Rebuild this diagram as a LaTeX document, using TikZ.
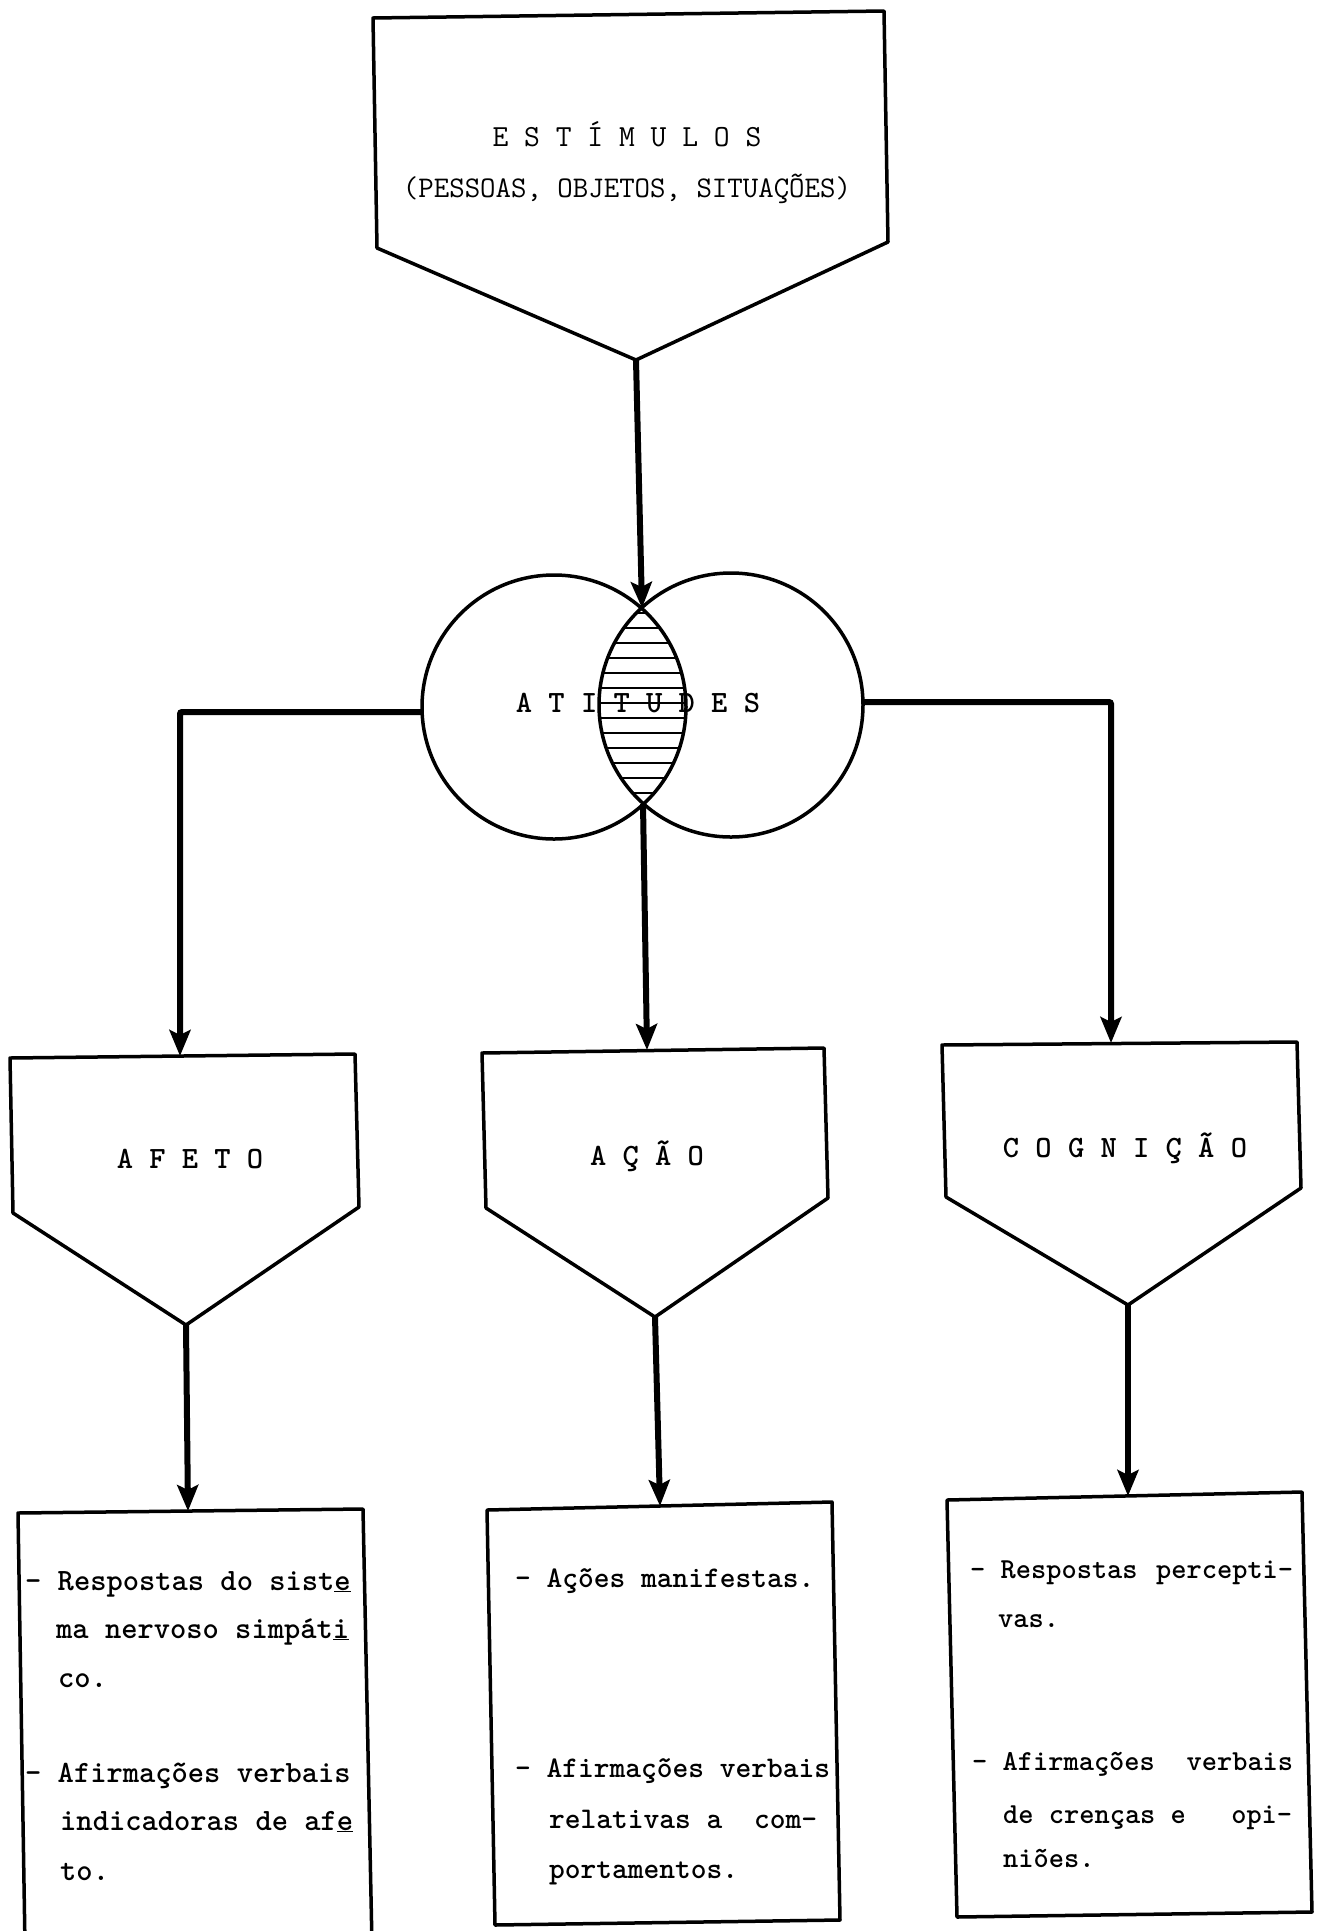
\documentclass[tikz,border=0pt]{standalone}
\usepackage{fontspec}
\usetikzlibrary{arrows.meta}
\begin{document}
\begin{tikzpicture}[x=1pt,y=-1pt,
  outline/.style={line width=3.5pt, line join=round},
  arr/.style={line width=6pt, rounded corners=2pt, -{Stealth[length=26pt,width=21pt,inset=5pt]}},
  hatch/.style={line width=2pt},
  lbl/.style={inner sep=0pt, anchor=base, font=\fontsize{31}{31}\selectfont\ttfamily\bfseries},
  btxt/.style={inner sep=0pt, anchor=base west, font=\fontsize{31}{31}\selectfont\ttfamily\bfseries},
  ctxt/.style={inner sep=0pt, anchor=base west, font=\fontsize{30}{30}\selectfont\ttfamily\bfseries},
  gtxt/.style={inner sep=0pt, anchor=base west, font=\fontsize{29}{29}\selectfont\ttfamily\bfseries},
  ring/.style={circle, draw, line width=3.5pt, minimum size=264pt, inner sep=0pt}
]
\fill[white] (0,0) rectangle (1318,1931);
\useasboundingbox (0,0) rectangle (1318,1931);

% ---------- top pentagon ----------
\draw[outline] (373,18) -- (884,11) -- (888,242) -- (636,360) -- (377,248) -- cycle;
\coordinate (stimP) at (636,360);
\node[lbl, font=\fontsize{30.7}{30}\selectfont\ttfamily] (est) at (627,146) {E S T Í M U L O S};
\node[lbl, font=\fontsize{30}{30}\selectfont\ttfamily] (estsub) at (627,197) {(PESSOAS, OBJETOS, SITUAÇÕES)};

% ---------- circles ----------
\node[ring] (LC) at (554,707) {};
\node[ring] (RC) at (731,705) {};
\begin{scope}
  \clip (554,707) circle [radius=132pt];
  \clip (731,705) circle [radius=132pt];
  \foreach \yy in {613,628,...,800} \draw[hatch] (590,\yy) -- (700,\yy);
\end{scope}
\node[lbl] (att) at (638,712) {A T I T U D E S};

\coordinate (lensT) at (642,608);
\coordinate (lensB) at (643,804);
\coordinate (lw) at (422,712);
\coordinate (rw) at (863,702);

% ---------- middle pentagons ----------
\draw[outline] (10,1058) -- (355,1054) -- (359,1207) -- (186,1325) -- (13,1213) -- cycle;
\draw[outline] (482,1053) -- (824,1048) -- (828,1198) -- (655,1317) -- (486,1208) -- cycle;
\draw[outline] (942,1045) -- (1297,1042) -- (1301,1188) -- (1128,1305) -- (946,1197) -- cycle;
\coordinate (afT) at (180,1056);
\coordinate (acT) at (647,1050);
\coordinate (cgT) at (1111,1043);
\coordinate (afP) at (186,1325);
\coordinate (acP) at (655,1317);
\coordinate (cgP) at (1128,1305);
\node[lbl] (afeto) at (190,1168) {A F E T O};
\node[lbl] (acao) at (647,1165) {A Ç Ã O};
\node[lbl] (cogn) at (1125,1157) {C O G N I Ç Ã O};

% ---------- bottom boxes ----------
\draw[outline] (25,1945) -- (18,1513) -- (363,1509) -- (372,1945);
\draw[outline] (487,1510) -- (832,1502) -- (840,1920) -- (495,1925) -- cycle;
\draw[outline] (947,1500) -- (1302,1492) -- (1312,1912) -- (957,1917) -- cycle;
\coordinate (afB) at (188,1511);
\coordinate (acB) at (660,1506);
\coordinate (cgB) at (1128,1496);

% texts, AFETO box
\node[btxt] (a1) at (25,1590) {- Respostas do sist\underline{e}};
\node[btxt] (a2) at (56,1638) {ma nervoso simpát\underline{i}};
\node[btxt] (a3) at (58,1687) {co.};
\node[btxt] (a4) at (25,1782) {- Afirmações verbais};
\node[btxt] (a5) at (60,1830) {indicadoras de af\underline{e}};
\node[btxt] (a6) at (60,1880) {to.};

% texts, ACAO box
\node[ctxt] (b1) at (515,1587) {- Ações manifestas.};
\node[ctxt] (b2) at (515,1777) {- Afirmações verbais};
\node[ctxt] (b3) at (549,1828) {\makebox[268pt][l]{relativas a\hfill com-}};
\node[ctxt] (b4) at (549,1878) {portamentos.};

% texts, COGNICAO box
\node[gtxt] (c1) at (970,1578) {\makebox[323pt][l]{- Respostas\hfill percepti-}};
\node[gtxt] (c2) at (998,1627) {vas.};
\node[gtxt] (c3) at (972,1770) {\makebox[321pt][l]{- Afirmações\hfill verbais}};
\node[gtxt] (c4) at (1003,1823) {\makebox[289pt][l]{de crenças e\hfill opi-}};
\node[gtxt] (c5) at (1003,1867) {niões.};

% ---------- connectors ----------
\draw[arr] (stimP) -- (lensT);
\draw[arr] (lw) -| (afT);
\draw[arr] (rw) -| (cgT);
\draw[arr] (lensB) -- (acT);
\draw[arr] (afP) -- (afB);
\draw[arr] (acP) -- (acB);
\draw[arr] (cgP) -- (cgB);
\end{tikzpicture}
\end{document}
